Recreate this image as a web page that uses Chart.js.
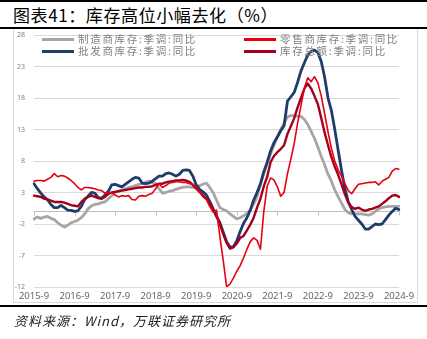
<!DOCTYPE html>
<html>
<head>
<meta charset="utf-8">
<script src="https://cdn.jsdelivr.net/npm/chart.js@4.4.1/dist/chart.umd.min.js"></script>
<style>
  html,body{margin:0;padding:0;background:#fff;}
  body{width:427px;height:339px;position:relative;overflow:hidden;font-family:"Noto Sans CJK SC","Noto Sans",sans-serif;}
  .abs{position:absolute;}
  .hr{position:absolute;left:0;width:427px;background:#000;}
  #title{left:13px;top:6px;font-size:17px;line-height:18px;letter-spacing:0.6px;color:#000;white-space:nowrap;}
  #frame{left:13px;top:29px;width:403px;height:273px;border:1px solid #d9d9d9;border-top:none;}
  #src{left:14px;top:313px;font-size:13px;line-height:15px;letter-spacing:1px;font-style:italic;color:#222;white-space:nowrap;}
  .lg{position:absolute;font-size:10.5px;line-height:12px;letter-spacing:1.7px;color:#7f7f7f;white-space:nowrap;}
  .lg i{display:inline-block;width:32px;height:3px;vertical-align:middle;margin-right:4px;position:relative;top:-1px;}
  canvas{position:absolute;left:0;top:0;}
</style>
</head>
<body>
<div class="hr" style="top:0;height:2px;"></div>
<div id="title" class="abs">图表41：库存高位小幅去化（%）</div>
<div class="hr" style="top:27px;height:2px;"></div>
<div id="frame" class="abs"></div>
<canvas id="c" width="427" height="339"></canvas>
<div class="lg" style="left:42px;top:33px;"><i style="background:#a6a6a6"></i>制造商库存:季调:同比</div>
<div class="lg" style="left:244px;top:33px;"><i style="background:#e60012"></i>零售商库存:季调:同比</div>
<div class="lg" style="left:42px;top:45px;"><i style="background:#1f3c6b"></i>批发商库存:季调:同比</div>
<div class="lg" style="left:244px;top:45px;"><i style="background:#a5001b"></i>库存总额:季调:同比</div>
<div class="hr" style="top:305px;height:2px;"></div>
<div id="src" class="abs">资料来源：Wind，万联证券研究所</div>
<script>
// Categories: monthly, 2015-9 .. 2024-9
const months = [];
for (let y = 2015, m = 9; y < 2024 || (y === 2024 && m <= 9); ) {
  months.push(y + '-' + m);
  m++; if (m > 12) { m = 1; y++; }
}
const yTicks = [-12, -7, -2, 3, 8, 13, 18, 23, 28];

const manufacturing = [-1.2,-0.9,-1.1,-0.9,-0.8,-1.1,-1.3,-1.8,-2.2,-2.5,-2.2,-1.8,-1.6,-1.4,-1.0,-0.4,0.4,0.9,1.1,1.2,1.4,1.5,2.0,2.5,
  3.0,3.2,3.4,3.6,3.8,3.9,4.1,4.3,4.4,4.6,4.8,4.6,4.4,3.6,2.9,3.0,3.2,3.3,3.5,3.7,3.8,3.9,3.9,3.8,
  3.9,4.1,4.3,4.5,3.8,3.0,1.8,0.6,0.3,0.1,-0.4,-0.8,-1.2,-1.0,-0.7,-0.3,0.2,1.2,2.3,4.2,6.0,7.6,9.1,10.5,
  11.8,13.0,14.0,15.0,15.2,15.2,15.1,15.1,14.6,13.8,12.7,11.6,10.2,8.7,7.4,5.9,4.8,3.4,2.3,1.3,0.3,-0.2,-0.4,-0.4,
  -0.4,-0.4,-0.5,-0.6,-0.4,0.0,0.4,0.6,0.7,0.8,0.8,0.8,0.8];

const retail = [4.8,4.9,4.9,4.8,5.1,5.4,6.0,5.5,5.7,5.6,5.3,4.9,4.4,3.8,3.4,3.8,3.8,3.7,3.6,3.4,3.3,2.9,3.0,3.0,
  2.6,2.3,2.5,2.4,2.5,1.9,1.8,2.4,2.5,2.4,2.7,2.9,3.6,4.4,3.8,4.1,4.5,4.6,4.7,4.7,4.6,4.6,4.4,4.3,
  3.8,3.1,2.3,1.9,0.8,-0.1,0.2,-4.0,-7.8,-12.0,-11.5,-10.6,-9.5,-8.6,-7.4,-6.0,-4.8,-4.2,-4.6,-6.0,0.0,4.0,5.3,5.0,
  3.9,2.4,3.0,6.0,8.3,10.8,14.0,16.8,19.6,21.2,20.6,21.4,20.4,18.3,15.5,12.6,10.0,8.0,6.6,5.6,4.4,3.3,2.8,3.6,
  4.3,4.4,4.5,4.6,4.6,4.7,4.2,4.8,5.1,5.4,6.4,6.8,6.7];

const wholesale = [4.4,3.6,2.9,2.3,1.85,1.1,0.6,0.6,0.95,0.6,0.2,0.15,0.0,0.1,0.8,1.9,2.4,3.0,2.9,2.2,2.1,2.6,
  3.2,4.2,4.3,4.1,3.9,4.3,4.7,5.1,5.4,5.3,4.5,4.4,4.5,4.8,5.2,5.6,5.6,6.0,6.1,5.9,5.6,5.9,6.5,6.6,6.5,5.6,
  4.2,3.5,3.1,2.6,1.6,0.4,-0.8,-1.8,-3.3,-4.8,-5.7,-5.6,-4.7,-3.2,-1.9,-1.0,0.2,1.8,3.0,4.4,6.3,7.8,9.6,10.9,11.8,12.8,13.6,
  17.5,18.2,18.9,20.5,22.3,23.6,24.8,25.4,25.6,25.2,23.8,21.3,18.0,16.0,13.0,9.7,6.5,3.6,1.5,0.3,-0.8,-1.4,-2.0,-2.8,-2.8,-2.4,-2.0,-2.1,-2.0,-1.3,-0.6,0.0,0.5,0.3];

const totalInventory = [2.5,2.4,2.3,2.0,1.9,1.7,1.5,1.5,1.5,1.4,1.2,1.0,0.9,0.8,1.5,2.0,2.3,2.5,2.3,2.1,2.0,2.3,2.8,3.0,
  3.1,3.2,3.3,3.4,3.5,3.6,3.7,3.8,3.8,3.9,3.9,4.0,4.2,4.4,4.4,4.6,4.7,4.8,4.9,4.9,5.0,4.9,4.7,4.2,
  3.6,3.1,2.5,2.0,1.3,0.3,-0.7,-2.0,-3.6,-5.0,-5.9,-5.7,-5.1,-4.2,-3.9,-3.0,-2.1,-1.0,0.6,2.0,4.0,5.5,7.8,8.8,
  9.4,9.9,10.5,12.3,13.5,14.8,16.5,18.0,19.5,20.3,19.5,18.3,17.0,14.8,12.5,10.5,8.6,7.1,5.8,4.3,2.7,1.4,0.7,0.4,
  0.6,0.3,0.1,0.3,0.4,0.6,0.8,1.2,1.6,2.1,2.5,2.6,2.3];

const zeroLine = {
  id: 'zeroLine',
  beforeDatasetsDraw(chart) {
    const {ctx, chartArea, scales} = chart;
    const y = Math.round(scales.y.getPixelForValue(0)) + 0.5;
    ctx.save();
    ctx.strokeStyle = '#bfbfbf';
    ctx.lineWidth = 1;
    ctx.beginPath();
    ctx.moveTo(chartArea.left, y);
    ctx.lineTo(chartArea.right, y);
    months.forEach((m, i) => {
      if (m.endsWith('-9')) {
        const x = Math.round(scales.x.getPixelForValue(i)) + 0.5;
        ctx.moveTo(x, y);
        ctx.lineTo(x, y + 4);
      }
    });
    ctx.stroke();
    ctx.restore();
  }
};

const common = {pointRadius: 0, pointHoverRadius: 0, tension: 0, borderJoinStyle: 'round', borderCapStyle: 'round', fill: false};

new Chart(document.getElementById('c'), {
  type: 'line',
  data: {
    labels: months,
    datasets: [
      Object.assign({label: '零售商库存:季调:同比', data: retail, borderColor: '#e60012', borderWidth: 1.6}, common),
      Object.assign({label: '库存总额:季调:同比', data: totalInventory, borderColor: '#a5001b', borderWidth: 2.4}, common),
      Object.assign({label: '批发商库存:季调:同比', data: wholesale, borderColor: '#1f3c6b', borderWidth: 2.8}, common),
      Object.assign({label: '制造商库存:季调:同比', data: manufacturing, borderColor: '#a6a6a6', borderWidth: 2.8}, common)
    ]
  },
  options: {
    responsive: false,
    animation: false,
    devicePixelRatio: 1,
    layout: {padding: {left: 13, right: 28, top: 35, bottom: 36}},
    plugins: {legend: {display: false}, tooltip: {enabled: false}, title: {display: false}},
    scales: {
      x: {
        type: 'category',
        offset: false,
        grid: {display: false, drawTicks: false},
        border: {display: false},
        ticks: {
          autoSkip: false, maxRotation: 0, minRotation: 0, padding: 4,
          color: '#666666',
          font: {family: 'Noto Sans', size: 9.5},
          callback: function(v, i) { const l = months[i]; return l.endsWith('-9') ? l : ''; }
        },
        afterFit: (s) => { s.height = 16; }
      },
      y: {
        min: -12, max: 28,
        afterBuildTicks: (s) => { s.ticks = yTicks.map(v => ({value: v})); },
        grid: {color: '#d9d9d9', lineWidth: 1, drawTicks: false},
        border: {display: false},
        ticks: {padding: 9, color: '#808080', font: {family: 'Noto Sans', size: 7}},
        afterFit: (s) => { s.width = 21; }
      }
    }
  },
  plugins: [zeroLine]
});
</script>
</body>
</html>
